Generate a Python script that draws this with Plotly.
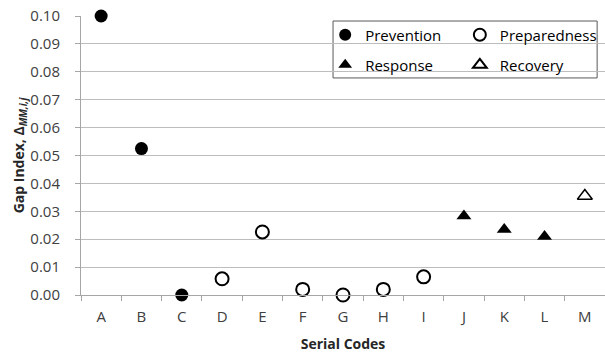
import plotly.graph_objects as go

codes = ["A", "B", "C", "D", "E", "F", "G", "H", "I", "J", "K", "L", "M"]

prevention_codes = ["A", "B", "C"]
prevention_vals = [0.100, 0.0525, 0.000]

preparedness_codes = ["D", "E", "F", "G", "H", "I"]
preparedness_vals = [0.0058, 0.0226, 0.0020, 0.0000, 0.0020, 0.0065]

response_codes = ["J", "K", "L"]
response_vals = [0.0283, 0.0235, 0.0210]

recovery_codes = ["M"]
recovery_vals = [0.0355]

y_ticks = [0.00, 0.01, 0.02, 0.03, 0.04, 0.05, 0.06, 0.07, 0.08, 0.09, 0.10]

FONT = "Open Sans"

fig = go.Figure()
fig.add_trace(go.Scatter(x=prevention_codes, y=prevention_vals, mode="markers", name="Prevention",
                         marker=dict(symbol="circle", size=13, color="black"), legend="legend"))
fig.add_trace(go.Scatter(x=preparedness_codes, y=preparedness_vals, mode="markers", name="Preparedness",
                         marker=dict(symbol="circle-open", size=13, color="black", line=dict(width=2, color="black")),
                         legend="legend2"))
fig.add_trace(go.Scatter(x=response_codes, y=response_vals, mode="markers", name="Response",
                         marker=dict(symbol="triangle-up", size=13, color="black"), legend="legend3"))
fig.add_trace(go.Scatter(x=recovery_codes, y=recovery_vals, mode="markers", name="Recovery",
                         marker=dict(symbol="triangle-up-open", size=13, color="black", line=dict(width=1.5, color="black")),
                         legend="legend4"))

for tr in fig.data:
    tr.cliponaxis = False

leg_common = dict(bgcolor="rgba(0,0,0,0)", borderwidth=0, font=dict(family=FONT, size=15, color="black"),
                  xanchor="left", yanchor="middle", itemsizing="constant")

fig.update_layout(
    width=605, height=356,
    margin=dict(l=81, r=0, t=16, b=61),
    paper_bgcolor="white", plot_bgcolor="white",
    font=dict(family=FONT, size=15, color="#404040"),
    legend=dict(x=0.466, y=0.932, **leg_common),
    legend2=dict(x=0.723, y=0.932, **leg_common),
    legend3=dict(x=0.466, y=0.824, **leg_common),
    legend4=dict(x=0.723, y=0.824, **leg_common),
    xaxis=dict(
        categoryorder="array", categoryarray=codes, range=[-0.5, 12.5],
        showgrid=False, showline=True, linecolor="#a6a6a6", linewidth=1,
        ticks="outside", ticklen=5, tickcolor="#a6a6a6", tickson="boundaries",
        tickfont=dict(family=FONT, size=15, color="#404040"),
        ticklabelstandoff=8,
        title=dict(text="<b>Serial Codes</b>", font=dict(family=FONT, size=14, color="#262626"), standoff=14),
        zeroline=False,
    ),
    yaxis=dict(
        range=[0, 0.10], tickvals=y_ticks, tickformat=".2f",
        showgrid=True, gridcolor="#bdbdbd", gridwidth=1,
        showline=True, linecolor="#a6a6a6", linewidth=1,
        ticks="outside", ticklen=5, tickcolor="#a6a6a6",
        ticklabelstandoff=12,
        tickfont=dict(family=FONT, size=15, color="#404040"),
        title=dict(text="<b>Gap Index, Δ<sub><i>MM,i,j</i></sub></b>", font=dict(family=FONT, size=14, color="#262626"), standoff=2),
        zeroline=False,
    ),
    shapes=[dict(type="rect", xref="paper", yref="paper", x0=0.481, x1=0.985, y0=0.778, y1=0.982,
                 line=dict(color="#595959", width=1), fillcolor="white", layer="below")],
    showlegend=True,
)

fig.write_html("out.html", config={"displayModeBar": False},
               post_script="document.body.style.margin='0';document.body.style.overflow='hidden';")
